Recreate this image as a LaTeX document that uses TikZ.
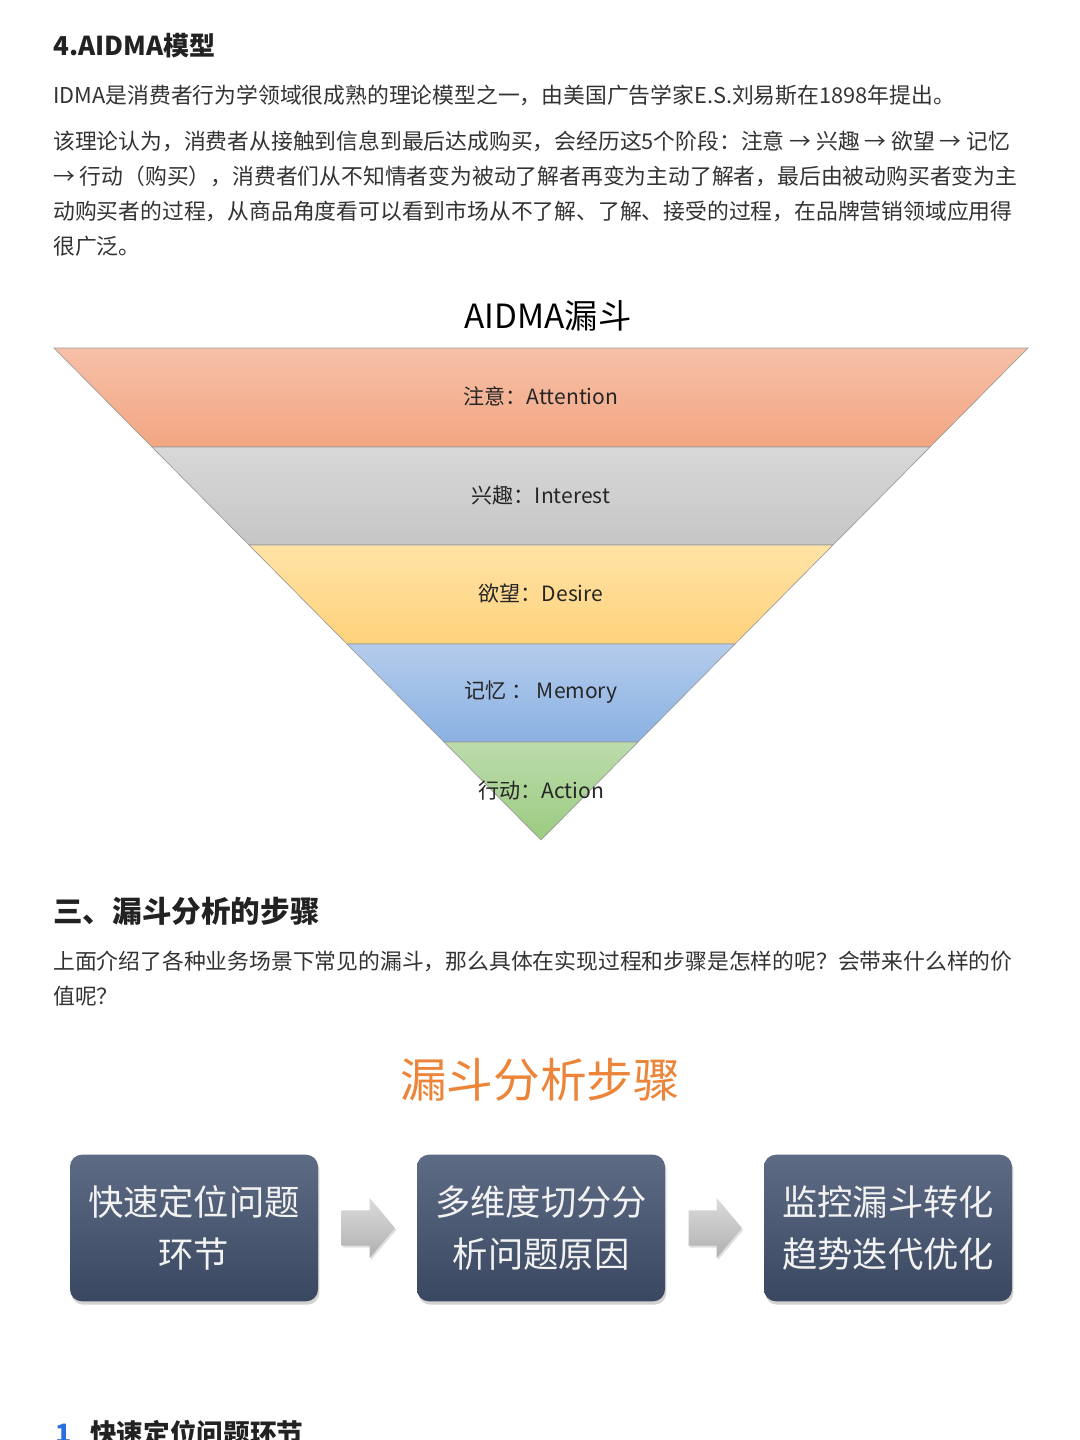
\documentclass[tikz,border=0pt]{standalone}
\usepackage{fontspec}
\setmainfont{Noto Sans CJK SC}
\usetikzlibrary{shapes.arrows,shadows,calc}
\definecolor{txt}{HTML}{333333}
\definecolor{head}{HTML}{222222}
\definecolor{fline}{HTML}{9A9A9A}
\definecolor{oA}{HTML}{F6C0A8}\definecolor{oB}{HTML}{F3A682}
\definecolor{gA}{HTML}{D8D8D8}\definecolor{gB}{HTML}{C6C6C6}
\definecolor{yA}{HTML}{FFE3A6}\definecolor{yB}{HTML}{FFD27C}
\definecolor{bA}{HTML}{B4CCEC}\definecolor{bB}{HTML}{8AB1E2}
\definecolor{nA}{HTML}{BCDCAC}\definecolor{nB}{HTML}{9BCB80}
\definecolor{boxA}{HTML}{5E6B84}\definecolor{boxB}{HTML}{3A4760}
\definecolor{orangeT}{HTML}{EC8539}
\definecolor{blueN}{HTML}{2A6FDB}
\newcommand\fsz[1]{\fontsize{#1}{#1}\selectfont}
\tikzset{
  para/.style={anchor=base west,inner sep=0,text=txt,font=\fsz{16.35pt}},
  hd/.style={anchor=base west,inner sep=0,text=head},
  band/.style={draw=fline,line width=0.5pt},
  flabel/.style={inner sep=0,text=black!85,font=\fsz{15.8pt}},
  stepbox/.style={rounded corners=9pt,top color=boxA,bottom color=boxB,
    minimum width=186pt,minimum height=110pt,align=center,text=white!95!black,
    font=\fsz{26.5pt},
    drop shadow={opacity=0.35,shadow xshift=1pt,shadow yshift=-2.5pt}},
  blockarrow/.style={single arrow,inner xsep=0pt,inner ysep=13pt,minimum height=40pt,
    single arrow head extend=9.4pt,single arrow tip angle=100,
    top color=gray!28,bottom color=gray!62,draw=none,
    drop shadow={opacity=0.25,shadow xshift=1pt,shadow yshift=-1.5pt}}
}
\begin{document}
\begin{tikzpicture}[x=0.75pt,y=-0.75pt]
\useasboundingbox[fill=white] (0,0) rectangle (1080,1440);
% headings and paragraphs
\node[hd,font=\fsz{19.5pt}\bfseries] (h1) at (53,55) {4.AIDMA模型};
\node[para] (p1) at (53,103) {IDMA是消费者行为学领域很成熟的理论模型之一，由美国广告学家E.S.刘易斯在1898年提出。};
\node[para] (p2a) at (53,149) {该理论认为，消费者从接触到信息到最后达成购买，会经历这5个阶段：注意 → 兴趣 → 欲望 → 记忆};
\node[para] (p2b) at (53,184) {→ 行动（购买），消费者们从不知情者变为被动了解者再变为主动了解者，最后由被动购买者变为主};
\node[para] (p2c) at (53,219) {动购买者的过程，从商品角度看可以看到市场从不了解、了解、接受的过程，在品牌营销领域应用得};
\node[para] (p2d) at (53,254) {很广泛。};
% funnel title
\node[inner sep=0,text=black,font=\fsz{25pt}] (ft) at (548,316) {AIDMA漏斗};
% funnel bands
\path[band,top color=oA,bottom color=oB] (54,348) -- (1028,348) -- (930,447) -- (152,447) -- cycle;
\path[band,top color=gA,bottom color=gB] (152,447) -- (930,447) -- (833,545) -- (249,545) -- cycle;
\path[band,top color=yA,bottom color=yB] (249,545) -- (833,545) -- (735,644) -- (347,644) -- cycle;
\path[band,top color=bA,bottom color=bB] (347,644) -- (735,644) -- (638,742) -- (444,742) -- cycle;
\path[band,top color=nA,bottom color=nB] (444,742) -- (638,742) -- (541,840) -- cycle;
\node[flabel] (l1) at (541,396) {注意：Attention};
\node[flabel] (l2) at (541,495) {兴趣：Interest};
\node[flabel] (l3) at (541,593) {欲望：Desire};
\node[flabel] (l4) at (541,692) {记忆 ： Memory};
\node[flabel] (l5) at (541,791) {行动：Action};
% section 3
\node[hd,font=\fsz{22.2pt}\bfseries] (h2) at (53,922) {三、漏斗分析的步骤};
\node[para] (p3a) at (53,969) {上面介绍了各种业务场景下常见的漏斗，那么具体在实现过程和步骤是怎样的呢？会带来什么样的价};
\node[para] (p3b) at (53,1004) {值呢？};
\node[inner sep=0,text=orangeT,font=\fsz{35pt}] (st) at (540,1080) {漏斗分析步骤};
% step boxes
\node[stepbox] (b1) at (194,1228) {快速定位问题\\[12pt]环节};
\node[stepbox] (b2) at (541,1228) {多维度切分分\\[12pt]析问题原因};
\node[stepbox] (b3) at (888,1228) {监控漏斗转化\\[12pt]趋势迭代优化};
\node[blockarrow,xshift=-5pt] (a1) at ($(b1.east)!0.5!(b2.west)$) {};
\node[blockarrow,xshift=-5pt] (a2) at ($(b2.east)!0.5!(b3.west)$) {};
% cut-off next heading (cut by the page edge, as in the reference)
\node[hd,text=blueN,font=\fsz{20pt}\bfseries] (n1) at (55,1443) {1};
\node[hd,font=\fsz{20pt}\bfseries] (n1t) at (90,1443) {快速定位问题环节};
\end{tikzpicture}
\end{document}
